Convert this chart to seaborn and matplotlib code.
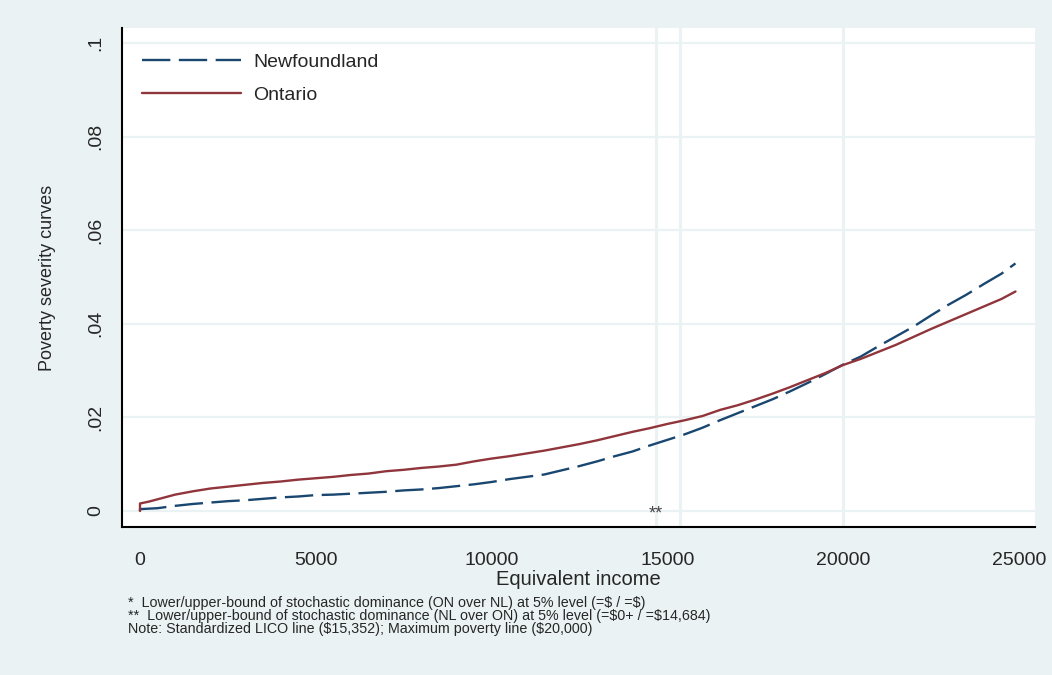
import matplotlib
matplotlib.use("Agg")
import matplotlib.pyplot as plt
import seaborn as sns
import numpy as np
import pandas as pd

# ── 데이터 ─────────────────────────────────────────
income = [0, 0, 250, 500, 1000, 1500, 2000, 2500, 3000, 3500, 4000, 4500,
          5000, 5500, 6000, 6500, 7000, 7500, 8000, 8500, 9000, 9500,
          10000, 10500, 11000, 11500, 12000, 12500, 13000, 13500, 14000, 14500,
          15000, 15500, 16000, 16500, 17000, 17500, 18000, 18500, 19000, 19500,
          20000, 20500, 21000, 21500, 22000, 22500, 23000, 23500, 24000, 24500,
          24900]

newfoundland = [0.0, 0.0004, 0.0005, 0.0006, 0.0011, 0.0015, 0.0018, 0.0021, 0.0023, 0.0026, 0.0029, 0.0031,
                0.0034, 0.0035, 0.0037, 0.0039, 0.0041, 0.0044, 0.0046, 0.0049, 0.0053, 0.0057,
                0.0062, 0.0068, 0.0073, 0.0078, 0.0087, 0.0096, 0.0106, 0.0117, 0.0127, 0.0140,
                0.0152, 0.0164, 0.0178, 0.0194, 0.0209, 0.0224, 0.0239, 0.0256, 0.0274, 0.0293,
                0.0313, 0.0330, 0.0352, 0.0373, 0.0394, 0.0418, 0.0441, 0.0462, 0.0485, 0.0507,
                0.0529]

ontario = [0.0, 0.0016, 0.0020, 0.0025, 0.0035, 0.0042, 0.0048, 0.0052, 0.0056, 0.0060, 0.0063, 0.0067,
           0.0070, 0.0073, 0.0077, 0.0080, 0.0085, 0.0088, 0.0092, 0.0095, 0.0099, 0.0106,
           0.0112, 0.0117, 0.0123, 0.0129, 0.0136, 0.0143, 0.0151, 0.0160, 0.0169, 0.0177,
           0.0186, 0.0194, 0.0203, 0.0216, 0.0226, 0.0238, 0.0251, 0.0265, 0.0280, 0.0295,
           0.0312, 0.0325, 0.0340, 0.0355, 0.0372, 0.0389, 0.0405, 0.0421, 0.0437, 0.0453,
           0.0469]

vlines = [14684, 15352, 20000]
yticks = [0, 0.02, 0.04, 0.06, 0.08, 0.1]
ytick_labels = ["0", ".02", ".04", ".06", ".08", ".1"]
xticks = [0, 5000, 10000, 15000, 20000, 25000]

notes = [
    "*  Lower/upper-bound of stochastic dominance (ON over NL) at 5% level (=\\$ / =\\$)",
    "**  Lower/upper-bound of stochastic dominance (NL over ON) at 5% level (=\\$0+ / =\\$14,684)",
    "Note: Standardized LICO line (\\$15,352); Maximum poverty line (\\$20,000)",
]

BG = "#EAF2F3"
NAVY = "#1A476F"
MAROON = "#90353B"

sns.set_style("white")
plt.rcParams["font.family"] = ["Liberation Sans", "DejaVu Sans"]

df = pd.DataFrame({"income": income, "Newfoundland": newfoundland, "Ontario": ontario})

fig = plt.figure(figsize=(10.52, 6.75), dpi=100, facecolor=BG)
ax = fig.add_axes([122 / 1052, 1 - 527 / 675, 913 / 1052, 499 / 675])
ax.set_facecolor("white")

# 격자선 / 기준선
for y in yticks:
    ax.axhline(y, color=BG, linewidth=1.6, zorder=0)
for x in vlines:
    ax.axvline(x, color=BG, linewidth=2.2, zorder=0)

sns.lineplot(data=df, x="income", y="Newfoundland", ax=ax, color=NAVY,
             linewidth=1.7, linestyle=(0, (12, 3.6)), sort=False,
             estimator=None, label="Newfoundland")
sns.lineplot(data=df, x="income", y="Ontario", ax=ax, color=MAROON,
             linewidth=1.7, sort=False,
             estimator=None, label="Ontario")

ax.text(14684, -0.0006, "**", ha="center", va="center", fontsize=13, color="#444444")

ax.set_xlim(-512, 25455)
ax.set_ylim(-0.00342, 0.1032)
ax.set_xticks(xticks)
ax.set_xticklabels([str(v) for v in xticks], fontsize=14)
ax.set_yticks(yticks)
ax.set_yticklabels(ytick_labels, fontsize=14, rotation=90, va="center")
ax.tick_params(axis="both", direction="out", length=7, width=1.3, color="black", pad=6)
ax.tick_params(axis="x", pad=11)

for side in ["top", "right"]:
    ax.spines[side].set_visible(False)
for side in ["left", "bottom"]:
    ax.spines[side].set_color("black")
    ax.spines[side].set_linewidth(1.5)

ax.set_xlabel("Equivalent income", fontsize=14.5, labelpad=1)
ax.set_ylabel("Poverty severity curves", fontsize=13, labelpad=22)

ax.legend(loc="upper left", bbox_to_anchor=(0.022, 0.95), frameon=False,
          fontsize=14, handlelength=5.1, handletextpad=0.6, labelspacing=0.8,
          borderpad=0, borderaxespad=0)

for i, line in enumerate(notes):
    fig.text(128 / 1052, 1 - (603 + 13 * i) / 675, line, fontsize=10.3,
             ha="left", va="center")

fig.savefig("out.png", dpi=100, facecolor=BG)
